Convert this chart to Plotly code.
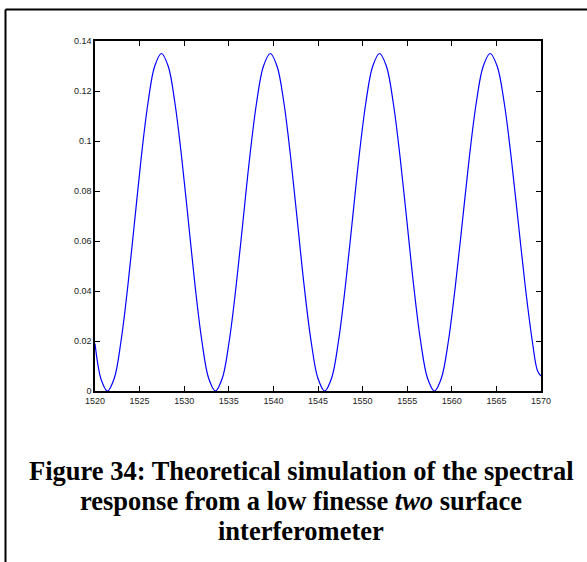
import plotly.graph_objs as go

#####################################################################################
########################                 data                  ######################
#####################################################################################
wavelength = [
    1520.0, 1520.7,
    1521.4, 1522.16, 1522.91, 1523.67, 1524.43, 1525.18, 1525.94, 1526.69, 1527.45,
    1528.21, 1528.96, 1529.72, 1530.48, 1531.23, 1531.99, 1532.74, 1533.5,
    1534.27, 1535.04, 1535.81, 1536.58, 1537.34, 1538.11, 1538.88, 1539.65,
    1540.41, 1541.18, 1541.94, 1542.70, 1543.46, 1544.23, 1544.99, 1545.75,
    1546.52, 1547.29, 1548.06, 1548.83, 1549.59, 1550.36, 1551.13, 1551.9,
    1552.67, 1553.44, 1554.21, 1554.98, 1555.74, 1556.51, 1557.28, 1558.05,
    1558.83, 1559.61, 1560.39, 1561.18, 1561.96, 1562.74, 1563.52, 1564.3,
    1565.09, 1565.88, 1566.66, 1567.45, 1568.24, 1569.03, 1569.6, 1570.0
]
response = [
    0.019, 0.0045,
    0.0, 0.0051, 0.0198, 0.0417, 0.0675, 0.0933, 0.1152, 0.1299, 0.135,
    0.1299, 0.1152, 0.0933, 0.0675, 0.0417, 0.0198, 0.0051, 0.0,
    0.0051, 0.0198, 0.0417, 0.0675, 0.0933, 0.1152, 0.1299, 0.135,
    0.1299, 0.1152, 0.0933, 0.0675, 0.0417, 0.0198, 0.0051, 0.0,
    0.0051, 0.0198, 0.0417, 0.0675, 0.0933, 0.1152, 0.1299, 0.135,
    0.1299, 0.1152, 0.0933, 0.0675, 0.0417, 0.0198, 0.0051, 0.0,
    0.0051, 0.0198, 0.0417, 0.0675, 0.0933, 0.1152, 0.1299, 0.135,
    0.1299, 0.1152, 0.0933, 0.0675, 0.0417, 0.0198, 0.0082, 0.006
]
caption_lines = [
    "<b>Figure 34: Theoretical simulation of the spectral</b>",
    "<b>response from a low finesse <i>two</i> surface</b>",
    "<b>interferometer</b>",
]

#####################################################################################
########################                 plot                  ######################
#####################################################################################
W, H = 587, 562
L, R, T, B = 95, 46, 40.5, 170.5   # plot area: x 95..541, y 40.5..391.5
plot_w = W - L - R
plot_h = H - T - B


def px_x(x):
    return (x - L) / plot_w


def px_y(y):
    return (H - B - y) / plot_h


fig = go.Figure(go.Scatter(
    x=wavelength,
    y=response,
    mode='lines',
    line={'color': '#0000ff', 'width': 1.2, 'shape': 'spline'},
    showlegend=False,
))

axis_common = dict(
    showline=True,
    linecolor='black',
    linewidth=1.5,
    mirror='ticks',
    ticks='inside',
    ticklen=5,
    tickcolor='black',
    showgrid=False,
    zeroline=False,
    tickfont={'family': 'Arial, Liberation Sans', 'size': 9, 'color': '#222'},
)

fig.update_layout(
    width=W,
    height=H,
    margin=dict(l=L, r=R, t=T, b=B),
    paper_bgcolor='white',
    plot_bgcolor='white',
    xaxis=dict(range=[1520, 1570], dtick=5, tick0=1520, **axis_common),
    yaxis=dict(range=[0, 0.14], dtick=0.02, tick0=0, **axis_common),
)

# page border (left and top edges of the document frame)
fig.add_shape(type='line', xref='paper', yref='paper',
              x0=px_x(5.5), x1=px_x(640), y0=px_y(9), y1=px_y(9),
              line={'color': 'black', 'width': 2})
fig.add_shape(type='line', xref='paper', yref='paper',
              x0=px_x(5.5), x1=px_x(5.5), y0=px_y(9), y1=px_y(600),
              line={'color': 'black', 'width': 2})

# caption
for i, txt in enumerate(caption_lines):
    fig.add_annotation(
        xref='paper', yref='paper',
        x=px_x(301), y=px_y(472 + 30 * i),
        xanchor='center', yanchor='middle',
        text=txt, showarrow=False,
        font={'family': 'Liberation Serif, Times New Roman', 'size': 26.5, 'color': 'black'},
    )

# no page margin so the figure sits at the window origin; no modebar
fig.write_html("out.html",
               config={'displayModeBar': False},
               post_script="document.body.style.margin='0px';")
